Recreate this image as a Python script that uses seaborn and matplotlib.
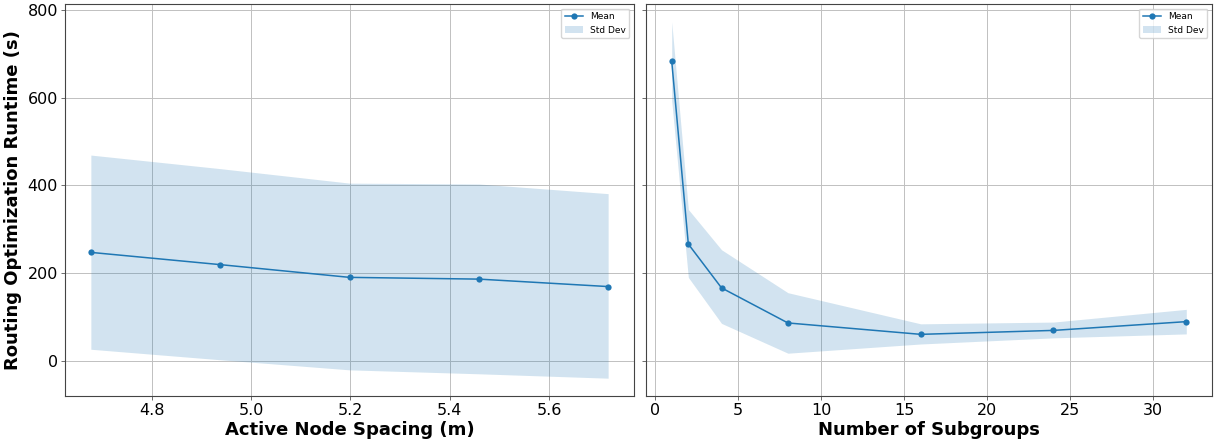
import matplotlib
matplotlib.use("Agg")
import matplotlib.pyplot as plt
from matplotlib.ticker import MultipleLocator
import seaborn as sns
import numpy as np
import pandas as pd

spacing = [4.677, 4.938, 5.198, 5.459, 5.719]
spacing_mean = [247, 219, 190, 186, 169]
spacing_upper = [469, 438, 405, 403, 381]
spacing_lower = [26, 2, -21, -30, -40]

subgroups = [1, 2, 4, 8, 16, 24, 32]
sub_mean = [683, 266, 166, 86, 60, 69, 89]
sub_upper = [773, 345, 253, 155, 84, 88, 117]
sub_lower = [593, 190, 85, 17, 38, 52, 61]

color = "#1f77b4"

fig, axes = plt.subplots(1, 2, figsize=(12.15, 4.42), dpi=100, sharey=True)
W, H = 1215, 442
axes[0].set_position([65 / W, 1 - 396 / H, (634 - 65) / W, 392 / H])
axes[1].set_position([646 / W, 1 - 396 / H, (1212 - 646) / W, 392 / H])

def draw(ax, x, m, lo, hi, xlabel):
    df = pd.DataFrame({"x": x, "mean": m})
    sns.lineplot(data=df, x="x", y="mean", ax=ax, marker="o", color=color,
                 markersize=4.5, markeredgewidth=0, linewidth=1.1, label="Mean")
    ax.fill_between(x, lo, hi, color=color, alpha=0.2, linewidth=0, label="Std Dev")
    ax.grid(True, color="#c0c0c0", linewidth=0.7)
    ax.set_axisbelow(True)
    ax.set_xlabel(xlabel, fontsize=13, fontweight="bold", labelpad=2)
    ax.tick_params(labelsize=11.5, length=3, width=0.6, color="#555555", pad=2)
    for s in ax.spines.values():
        s.set_color("#444444")
        s.set_linewidth(0.8)
    ax.legend(loc="upper right", fontsize=6.5)

draw(axes[0], spacing, spacing_mean, spacing_lower, spacing_upper, "Active Node Spacing (m)")
draw(axes[1], subgroups, sub_mean, sub_lower, sub_upper, "Number of Subgroups")
axes[0].yaxis.set_major_locator(MultipleLocator(200))
axes[0].set_ylabel("Routing Optimization Runtime (s)", fontsize=13, fontweight="bold", labelpad=4)
axes[1].set_ylabel("")

fig.savefig("out.png", dpi=100)
